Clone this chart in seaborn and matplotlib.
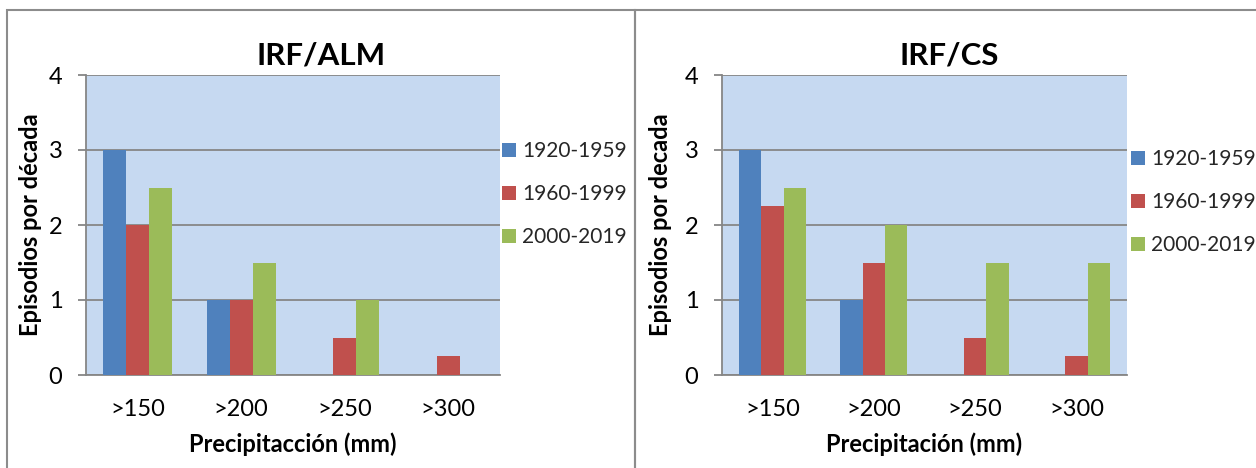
import matplotlib
matplotlib.use("Agg")
import matplotlib.pyplot as plt
import matplotlib.patches as mpatches
import seaborn as sns
import pandas as pd

categories = [">150", ">200", ">250", ">300"]
periods = ["1920-1959", "1960-1999", "2000-2019"]
alm_1920 = [3, 1, 0, 0]
alm_1960 = [2, 1, 0.5, 0.25]
alm_2000 = [2.5, 1.5, 1, 0]
cs_1920 = [3, 1, 0, 0]
cs_1960 = [2.25, 1.5, 0.5, 0.25]
cs_2000 = [2.5, 2, 1.5, 1.5]
yticks = [0, 1, 2, 3, 4]

colors = ["#4F81BD", "#C0504D", "#9BBB59"]
bg = "#C6D9F1"
grid_c = "#868686"

sns.set_theme(style="white")
plt.rcParams['font.family'] = ['Lato', 'DejaVu Sans']

W, H = 1256, 468
fig = plt.figure(figsize=(W / 100, H / 100), dpi=100)


def long_df(s1, s2, s3):
    rows = []
    for vals, p in zip([s1, s2, s3], periods):
        for c, v in zip(categories, vals):
            rows.append({"cat": c, "period": p, "val": v})
    return pd.DataFrame(rows)


def fx(px):
    return px / W


def fy(py):
    return 1 - py / H


panels = [
    dict(data=long_df(alm_1920, alm_1960, alm_2000), ax=(86, 500), title="IRF/ALM",
         title_x=321, xlabel="Precipitacción (mm)", ylabel="Episodios por década",
         ylabel_x=31, leg_x=502, leg_y=194),
    dict(data=long_df(cs_1920, cs_1960, cs_2000), ax=(722, 1127), title="IRF/CS",
         title_x=949, xlabel="Precipitación (mm)", ylabel="Episodios por decada",
         ylabel_x=661, leg_x=1131, leg_y=202),
]

top, bottom = 75, 375

for p in panels:
    x0, x1 = p["ax"]
    ax = fig.add_axes([fx(x0), fy(bottom), (x1 - x0) / W, (bottom - top) / H])
    sns.barplot(data=p["data"], x="cat", y="val", hue="period", hue_order=periods,
                order=categories, palette=colors, width=0.664, gap=0,
                saturation=1, ax=ax, errorbar=None, zorder=3)
    for patch in ax.patches:
        patch.set_edgecolor("none")
    ax.set_facecolor(bg)
    ax.set_ylim(0, 4)
    ax.set_xlim(-0.5, 3.5)
    ax.set_yticks(yticks)
    ax.set_yticklabels([str(t) for t in yticks])
    ax.set_axisbelow(True)
    ax.grid(axis="y", color=grid_c, linewidth=1.3, zorder=0)
    ax.grid(axis="x", visible=False)
    for s in ["top", "right"]:
        ax.spines[s].set_visible(False)
    for s in ["left", "bottom"]:
        ax.spines[s].set_color(grid_c)
        ax.spines[s].set_linewidth(1.3)
    ax.tick_params(axis="y", length=6, width=1.3, color=grid_c, pad=11,
                   labelsize=17, left=True, labelcolor="#000000")
    ax.tick_params(axis="x", length=0, pad=17, labelsize=17, labelcolor="#000000")
    ax.set_xlabel("")
    ax.set_ylabel("")
    leg = ax.get_legend()
    if leg is not None:
        leg.remove()
    fig.text(fx(p["title_x"]), fy(55), p["title"], ha="center", va="center",
             fontsize=22.5, fontweight="bold", color="#000000")
    fig.text(fx((x0 + x1) / 2), fy(444), p["xlabel"], ha="center", va="center",
             fontsize=17, fontweight="bold", color="#000000")
    fig.text(fx(p["ylabel_x"]), fy(225), p["ylabel"], ha="center", va="center",
             rotation=90, fontsize=17, fontweight="bold", color="#000000")
    handles = [mpatches.Patch(facecolor=c, edgecolor="none") for c in colors]
    fig.legend(handles, periods, loc="center left",
               bbox_to_anchor=(fx(p["leg_x"]), fy(p["leg_y"])),
               frameon=False, fontsize=15, handlelength=0.65, handleheight=0.65,
               handletextpad=0.3, labelspacing=1.1, borderpad=0, borderaxespad=0)

# panel borders
border_c = "#8C8C8C"
fig.add_artist(mpatches.Rectangle((fx(7), fy(470)), fx(635) - fx(7), fy(10) - fy(470),
                                  transform=fig.transFigure, fill=False,
                                  edgecolor=border_c, linewidth=1.5))
fig.add_artist(mpatches.Rectangle((fx(635), fy(470)), fx(1262) - fx(635), fy(10) - fy(470),
                                  transform=fig.transFigure, fill=False,
                                  edgecolor=border_c, linewidth=1.5))

fig.savefig("out.png", dpi=100)
